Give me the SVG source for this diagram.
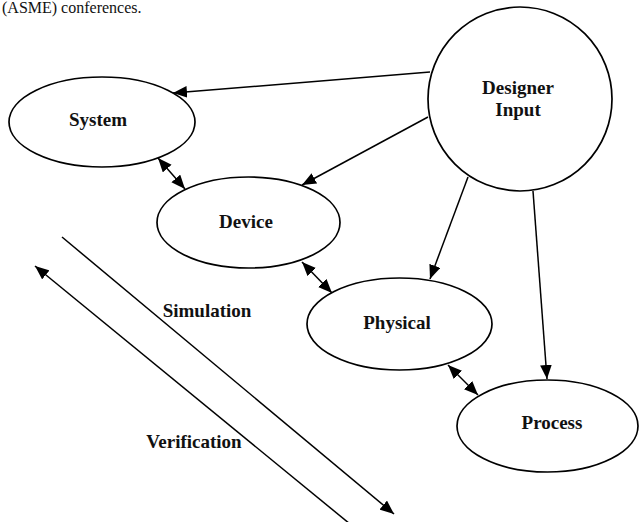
<svg xmlns="http://www.w3.org/2000/svg" width="639" height="522" viewBox="0 0 639 522">
<style>
.n{fill:#fff;stroke:#000;stroke-width:1.7}
.t{font-family:"Liberation Serif","Times New Roman",serif;font-weight:bold;font-size:19px;fill:#111;text-anchor:middle}
.c{stroke:#000;stroke-width:1.5;fill:none}
</style>
<defs>
<marker id="ah" viewBox="0 0 12 10" refX="12" refY="5" markerWidth="14" markerHeight="12" markerUnits="userSpaceOnUse" orient="auto"><path d="M0,0L12,5L0,10z" fill="#000"/></marker>
<marker id="as" viewBox="0 0 12 10" refX="0" refY="5" markerWidth="14" markerHeight="12" markerUnits="userSpaceOnUse" orient="auto"><path d="M12,0L0,5L12,10z" fill="#000"/></marker>
</defs>
<rect width="639" height="522" fill="#fff"/>
<text x="2" y="13" font-family="'Liberation Serif','Times New Roman',serif" font-size="16" fill="#111">(ASME) conferences.</text>
<g id="connectors">
<line class="c" x1="430" y1="72" x2="173" y2="93" marker-end="url(#ah)"/>
<line class="c" x1="428" y1="117" x2="302" y2="185" marker-end="url(#ah)"/>
<line class="c" x1="468" y1="177" x2="430" y2="279" marker-end="url(#ah)"/>
<line class="c" x1="533" y1="191" x2="547" y2="379" marker-end="url(#ah)"/>
<line class="c" x1="158" y1="158" x2="185" y2="189" marker-start="url(#as)" marker-end="url(#ah)"/>
<line class="c" x1="302" y1="262" x2="332" y2="293" marker-start="url(#as)" marker-end="url(#ah)"/>
<line class="c" x1="448" y1="365" x2="478" y2="395" marker-start="url(#as)" marker-end="url(#ah)"/>
<line class="c" x1="62" y1="237" x2="394" y2="514" marker-end="url(#ah)"/>
<line class="c" x1="35" y1="266" x2="350" y2="524" marker-start="url(#as)"/>
</g>
<g id="system"><ellipse class="n" cx="102" cy="122" rx="93" ry="45"/><text class="t" x="98" y="126">System</text></g>
<g id="device"><ellipse class="n" cx="248.5" cy="222.5" rx="91.5" ry="45.5"/><text class="t" x="246" y="228">Device</text></g>
<g id="designer-input"><circle class="n" cx="520" cy="99" r="92"/><text class="t" x="518" y="94">Designer</text><text class="t" x="518" y="116">Input</text></g>
<g id="physical"><ellipse class="n" cx="399.5" cy="324" rx="92.5" ry="46"/><text class="t" x="397" y="329">Physical</text></g>
<g id="process"><ellipse class="n" cx="547.5" cy="426" rx="90.5" ry="46"/><text class="t" x="552" y="429">Process</text></g>
<g id="labels">
<text class="t" x="207" y="317">Simulation</text>
<text class="t" x="194" y="448">Verification</text>
</g>
</svg>
